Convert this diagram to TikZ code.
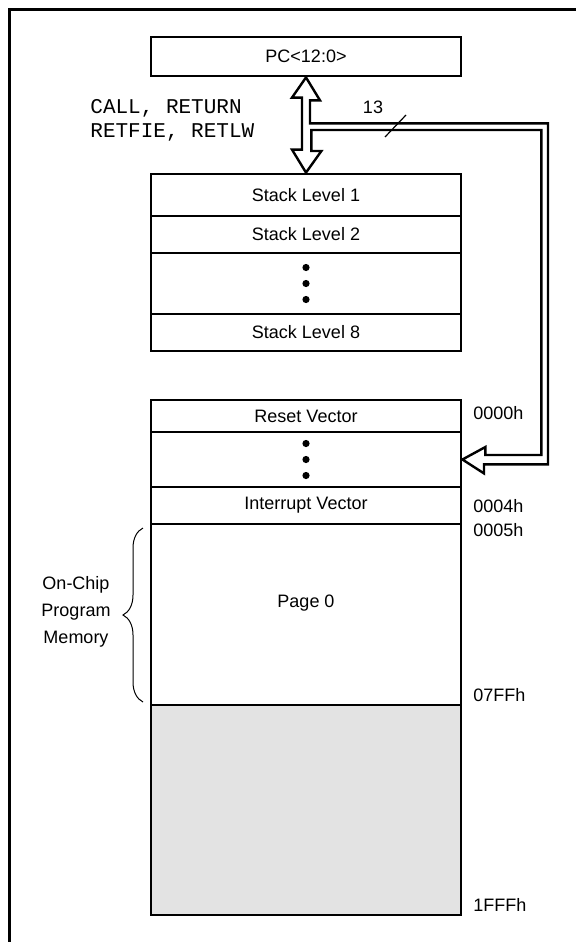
\documentclass[tikz,border=0pt]{standalone}
\usepackage{fontspec}
\setmainfont{Liberation Sans}
\newfontfamily\codefont{Liberation Mono}
\usetikzlibrary{calc}
\usetikzlibrary{decorations.pathreplacing}
\tikzset{cell/.style={draw,line width=1.4pt,minimum width=155pt,inner sep=0pt,font=\fontsize{9}{11}\selectfont}}
\tikzset{addr/.style={anchor=west,inner sep=0pt,font=\fontsize{9}{11}\selectfont}}
\tikzset{bus/.style={draw,line width=1.2pt,line join=miter}}

\begin{document}
\begin{tikzpicture}[x=0.5pt,y=-0.5pt]
      \pgfmathsetmacro{\colx}{306}
      \useasboundingbox (0,0) rectangle (576,942);
      \draw[line width=1.5pt] (576,9) -- (9,9) -- (9,942);

      \node[cell,minimum height=19.5pt] (pc) at (\colx,56.5) {PC<12:0>};

      \node[cell,minimum height=21pt] (s1) at (\colx,195) {Stack Level 1};
      \node[cell,minimum height=18.5pt] (s2) at (\colx,234.5) {Stack Level 2};
      \node[cell,minimum height=30.5pt] (sd) at (\colx,283.5) {};
      \node[cell,minimum height=18.5pt] (s8) at (\colx,332.5) {Stack Level 8};

      \node[cell,minimum height=16pt] (rst) at (\colx,416) {Reset Vector};
      \node[cell,minimum height=27.5pt] (rd) at (\colx,459.5) {};
      \node[cell,minimum height=18.5pt] (irq) at (\colx,505.5) {Interrupt Vector};
      \node[cell,minimum height=90.5pt] (pg0) at (\colx,614.5) {};
      \node[cell,minimum height=105pt,fill=black!11] (unimp) at (\colx,810) {};
      \node[font=\fontsize{9}{11}\selectfont,inner sep=0pt] (pg0txt) at (\colx,603) {Page 0};

      \foreach \d in {-16,0,16} {
        \fill ($(sd.center)+(0,\d)$) circle (1.8pt);
        \fill ($(rd.center)+(0,\d)$) circle (1.8pt);
      }

      \draw[bus] (pc.south) -- ++(14,23) -- ++(-10,0) -- ++(0,23) -- ++(238,0) -- ++(0,341)
        -- ++(-64,0) -- ++(0,9) -- (rd.east) -- ++(23,-12.5) -- ++(0,8) -- ++(56,0)
        -- ++(0,-325) -- ++(-230,0) -- ++(0,21) -- ++(10,0) -- (s1.north) -- ++(-14,-23)
        -- ++(10,0) -- ++(0,-52) -- ++(-10,0) -- cycle;

      \node[font=\fontsize{9}{11}\selectfont,inner sep=0pt] (width) at (373,107) {13};
      \draw[line width=0.6pt] (385,137) -- (406,115);

      \node[anchor=west,inner sep=0pt,align=left,font=\codefont\fontsize{10.5}{12}\selectfont] (ops) at (90,120) {CALL, RETURN\\RETFIE, RETLW};

      \node[addr] (a0) at (473,413) {0000h};
      \node[addr] (a4) at (473,506) {0004h};
      \node[addr] (a5) at (473,530) {0005h};
      \node[addr] (a7ff) at (473,695) {07FFh};
      \node[addr] (a1fff) at (473,905) {1FFFh};

      \draw[line width=0.5pt,decorate,decoration={brace,amplitude=10pt}] (143,702) -- (143,528);
      \node[align=center,inner sep=0pt,font=\fontsize{9}{13.5}\selectfont] (ocpm) at (76,612) {On-Chip\\Program\\Memory};

    \end{tikzpicture}
\end{document}
